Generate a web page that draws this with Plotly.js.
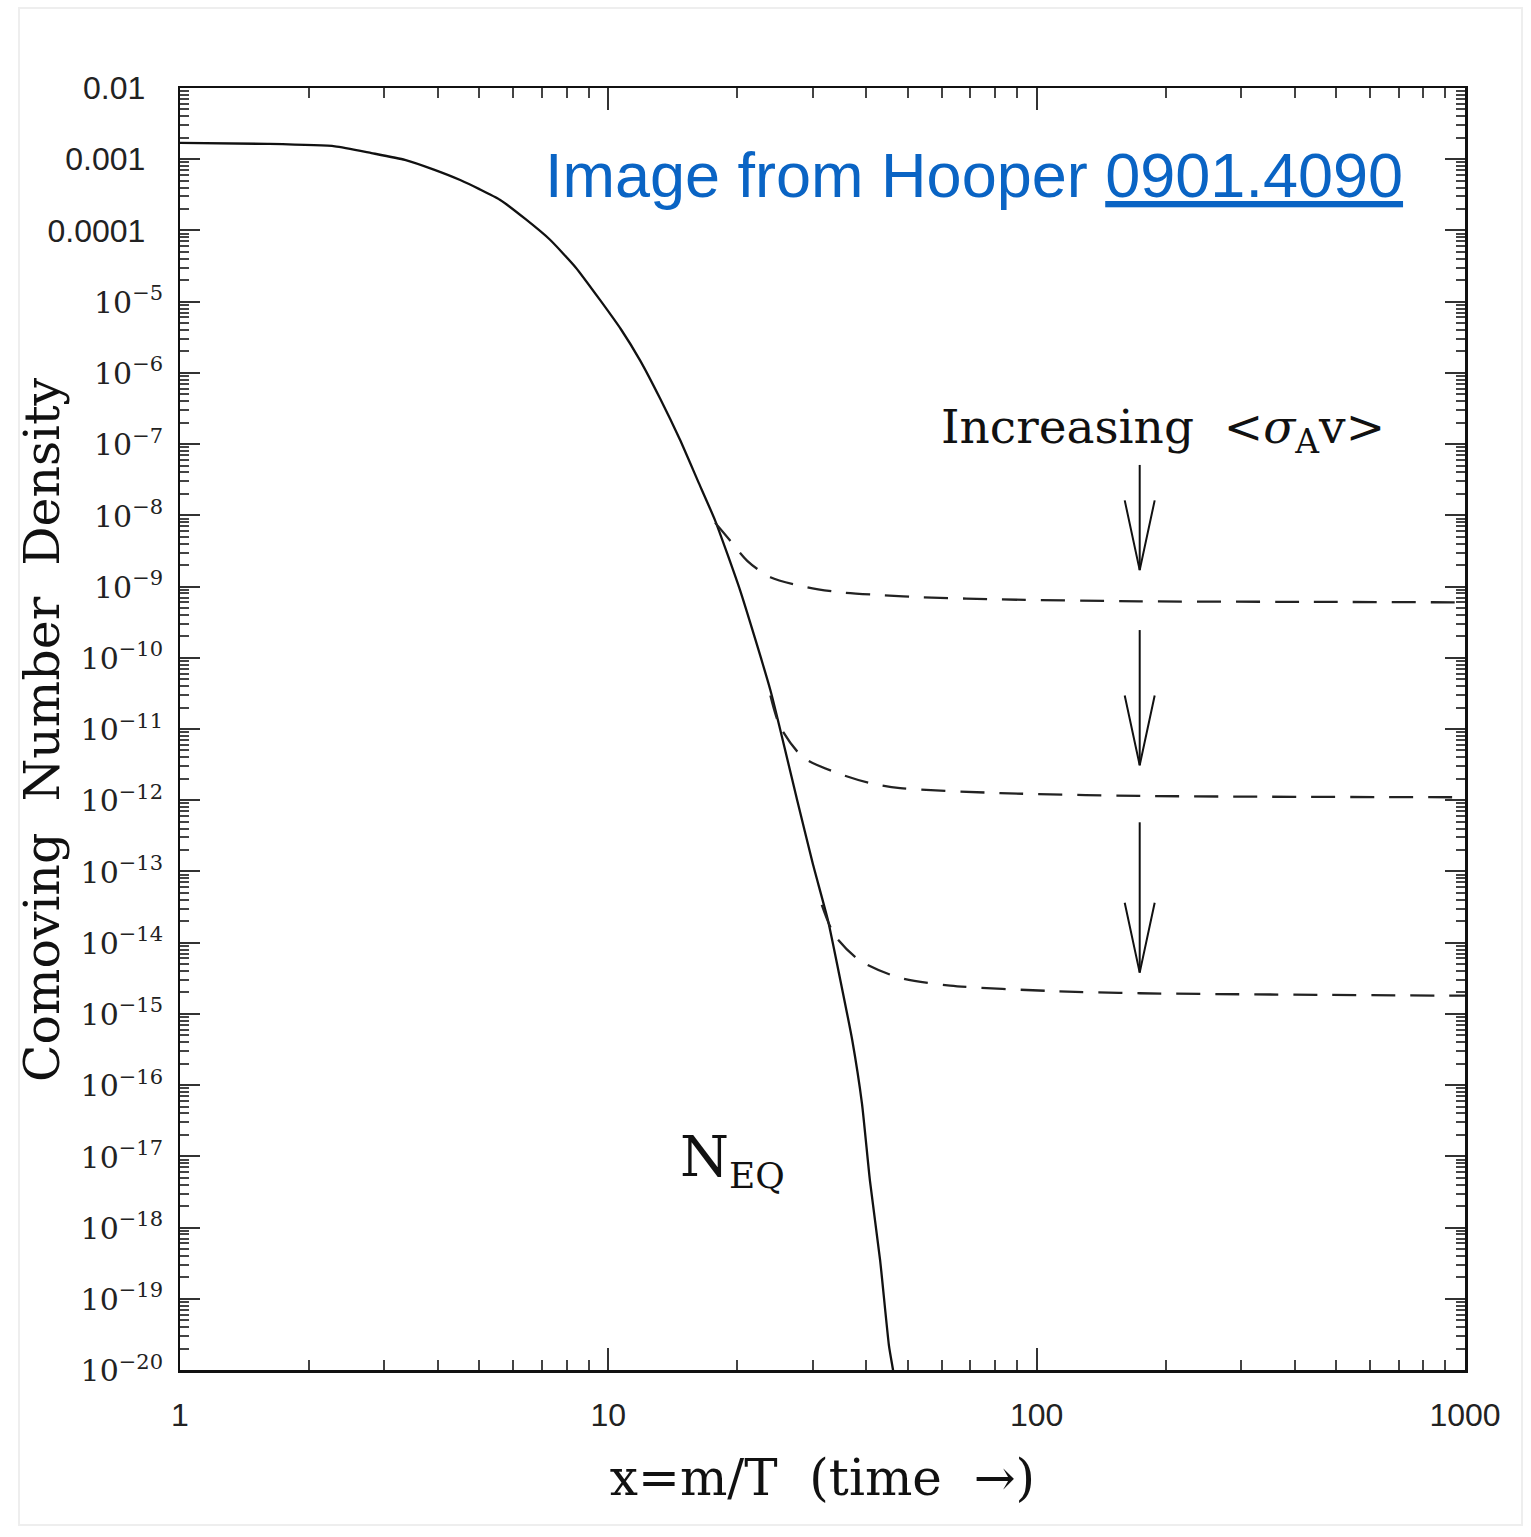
<!DOCTYPE html>
<html>
<head>
<meta charset="utf-8">
<script src="https://cdn.plot.ly/plotly-3.0.1.min.js"></script>
<style>
  html, body { margin: 0; padding: 0; background: #ffffff; }
  #chart { width: 1531px; height: 1537px; }
</style>
</head>
<body>
<div id="chart"></div>
<script>
// ---- Data ----
// Equilibrium curve N_EQ (solid)
const eqX = [1, 1.6, 2.3, 2.8, 3.35, 3.9, 4.51, 5.0, 5.58, 6.4, 7.31, 8.4, 9.57, 10.7, 11.86, 13.2, 14.7, 16.2, 17.75, 20.3, 23.9, 27.6, 30.0, 32.6, 34.8, 37.1, 39.1, 40.8, 43.1, 45.2, 46.2, 46.6];
const eqY = [1.70e-3, 1.64e-3, 1.52e-3, 1.22e-3, 9.8e-4, 7.2e-4, 5.1e-4, 3.8e-4, 2.7e-4, 1.45e-4, 7.4e-5, 3.0e-5, 1.05e-5, 4.1e-6, 1.5e-6, 4.4e-7, 1.15e-7, 3.0e-8, 8.5e-9, 8.9e-10, 3.5e-11, 1.0e-12, 1.3e-13, 2.0e-14, 3.0e-15, 4.3e-16, 5.5e-17, 4.6e-18, 3.5e-19, 2.2e-20, 1.0e-20, 7e-21];

// Freeze-out curves (dashed), weakest to strongest annihilation
const fo1X = [17.75, 19.2, 21.1, 23.9, 29.1, 34.8, 43.1, 53.4, 82.2, 174, 412, 1000];
const fo1Y = [7.9e-9, 4.5e-9, 2.3e-9, 1.35e-9, 9.8e-10, 8.3e-10, 7.6e-10, 7.1e-10, 6.6e-10, 6.2e-10, 6.1e-10, 6.0e-10];

const fo2X = [23.9, 25.2, 28.5, 34.3, 40.8, 48.0, 82.2, 174, 1000];
const fo2Y = [2.95e-11, 1.07e-11, 4.0e-12, 2.4e-12, 1.74e-12, 1.48e-12, 1.26e-12, 1.15e-12, 1.1e-12];

const fo3X = [31.5, 33.8, 38.7, 48.0, 62.8, 107, 174, 1000];
const fo3Y = [3.4e-14, 1.26e-14, 5.6e-15, 3.2e-15, 2.5e-15, 2.1e-15, 1.95e-15, 1.8e-15];

// Arrows ("Increasing <σv>")
const arrowX = 174;
const arrowTop = [5.1e-8, 2.45e-10, 4.9e-13];
const arrowTip = [1.7e-9, 3.1e-12, 3.8e-15];

// Tick labels
const xTickVals = [1, 10, 100, 1000];
const xTickText = ['1', '10', '100', '1000'];
const yExponents = [-2, -3, -4, -5, -6, -7, -8, -9, -10, -11, -12, -13, -14, -15, -16, -17, -18, -19, -20];
const yPlainText = {'-2': '0.01', '-3': '0.001', '-4': '0.0001'};

// ---- Styles ----
const SERIF = 'DejaVu Serif, Liberation Serif, serif';
const SANS = 'Liberation Sans, Arial, sans-serif';
const HEAD_DEC = 0.98;   // arrow head length in decades
const HEAD_HALF = 0.035; // arrow head half width in log10(x) units

const yTickVals = yExponents.map(e => Math.pow(10, e));
const yTickText = yExponents.map(e => yPlainText[String(e)] !== undefined
  ? yPlainText[String(e)] + '\u00a0\u00a0'
  : '<span style="font-family:' + SERIF + ';font-size:30px">10<sup>\u2212' + (-e) + '</sup></span>');

const traces = [];
traces.push({x: eqX, y: eqY, mode: 'lines', line: {color: '#111', width: 2.3, shape: 'spline', smoothing: 0.5}, hoverinfo: 'skip'});
[[fo1X, fo1Y], [fo2X, fo2Y], [fo3X, fo3Y]].forEach(([xs, ys]) => {
  traces.push({x: xs, y: ys, mode: 'lines', line: {color: '#222', width: 2.3, dash: '24px,15px', shape: 'spline', smoothing: 0.8}, hoverinfo: 'skip'});
});
arrowTop.forEach((top, i) => {
  const tip = arrowTip[i];
  traces.push({x: [arrowX, arrowX], y: [top, tip], mode: 'lines', line: {color: '#111', width: 2}, hoverinfo: 'skip'});
  const hx = Math.pow(10, HEAD_HALF), hy = Math.pow(10, HEAD_DEC);
  traces.push({x: [arrowX / hx, arrowX, arrowX * hx], y: [tip * hy, tip, tip * hy], mode: 'lines', line: {color: '#111', width: 2}, hoverinfo: 'skip'});
});

const layout = {
  width: 1531, height: 1537,
  paper_bgcolor: '#ffffff', plot_bgcolor: '#ffffff',
  showlegend: false,
  margin: {l: 180, r: 66, t: 88, b: 167},
  xaxis: {
    type: 'log', range: [0, 3],
    showgrid: false, zeroline: false,
    showline: true, linecolor: '#111', linewidth: 2.5, mirror: 'ticks',
    ticks: 'inside', ticklen: 22, tickwidth: 2, tickcolor: '#333',
    tickvals: xTickVals, ticktext: xTickText,
    tickfont: {family: SANS, size: 32, color: '#222'},
    ticklabelstandoff: 15,
    minor: {ticks: 'inside', ticklen: 10, tickwidth: 2, tickcolor: '#444', dtick: 'D1', showgrid: false},
    title: {text: 'x=m/T  (time  \u2192)', font: {family: SERIF, size: 50, color: '#111'}, standoff: 28}
  },
  yaxis: {
    type: 'log', range: [-20, -2],
    showgrid: false, zeroline: false,
    showline: true, linecolor: '#111', linewidth: 2.5, mirror: 'ticks',
    ticks: 'inside', ticklen: 20, tickwidth: 2, tickcolor: '#333',
    tickvals: yTickVals, ticktext: yTickText,
    tickfont: {family: SANS, size: 32, color: '#222'},
    ticklabelstandoff: 8,
    minor: {ticks: 'inside', ticklen: 9, tickwidth: 2, tickcolor: '#444', dtick: 'D1', showgrid: false},
    title: {text: ''}
  },
  annotations: [
    {xref: 'paper', yref: 'paper', x: -0.1074, y: 0.5, xanchor: 'center', yanchor: 'middle', textangle: -90, showarrow: false,
     text: 'Comoving  Number  Density', font: {family: SERIF, size: 49, color: '#111'}},
    {xref: 'paper', yref: 'paper', x: 0.953, y: 0.932, xanchor: 'right', yanchor: 'middle', showarrow: false,
     text: 'Image from Hooper <u>0901.4090</u>', font: {family: SANS, size: 63, color: '#0a64c4'}},
    {xref: 'paper', yref: 'paper', x: 0.591, y: 0.733, xanchor: 'left', yanchor: 'middle', showarrow: false,
     text: 'Increasing  &lt;<i>\u03c3</i><sub>A</sub>v&gt;', font: {family: SERIF, size: 47, color: '#111'}},
    {xref: 'paper', yref: 'paper', x: 0.3875, y: 0.164, xanchor: 'left', yanchor: 'middle', showarrow: false,
     text: 'N<sub><span style="font-size:36px">EQ</span></sub>', font: {family: SERIF, size: 56, color: '#111'}}
  ],
  shapes: [
    {type: 'rect', xref: 'paper', yref: 'paper', x0: -0.1253, x1: 1.0444, y0: -0.1209, y1: 1.0624,
     line: {color: '#eeeeee', width: 2}, layer: 'below'}
  ]
};

Plotly.newPlot('chart', traces, layout, {staticPlot: true, displayModeBar: false});
</script>
</body>
</html>
